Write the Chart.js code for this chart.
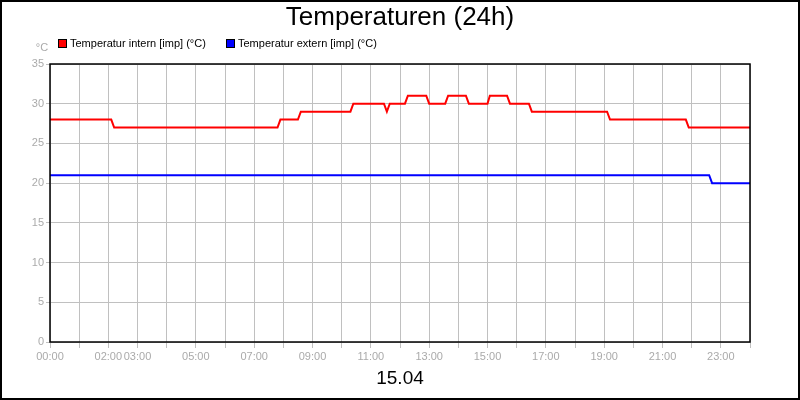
<!DOCTYPE html>
<html><head><meta charset="utf-8">
<script src="https://cdn.jsdelivr.net/npm/chart.js@4"></script>
<style>html,body{margin:0;padding:0;background:#fff}#w{width:800px;height:400px}</style>
</head><body><div id="w"><canvas id="c" width="800" height="400"></canvas></div>
<script>
const titleText = 'Temperaturen (24h)';
const dateText = '15.04';
const unitText = '°C';
const internLabel = 'Temperatur intern [imp] (°C)';
const externLabel = 'Temperatur extern [imp] (°C)';
const internHours = [0,2.1,2.2,7.8,7.9,8.5,8.6,10.3,10.4,11.45,11.55,11.65,12.17,12.27,12.9,13.0,13.55,13.65,14.26,14.36,15.0,15.08,15.67,15.77,16.42,16.52,19.1,19.2,21.8,21.9,24];
const internTemps = [28,28,27,27,28,28,29,29,30,30,29,30,30,31,31,30,30,31,31,30,30,31,31,30,30,29,29,28,28,27,27];
const externHours = [0,22.6,22.7,24];
const externTemps = [21,21,20,20];
const xTickLabels = {0:'00:00',2:'02:00',3:'03:00',5:'05:00',7:'07:00',9:'09:00',11:'11:00',13:'13:00',15:'15:00',17:'17:00',19:'19:00',21:'21:00',23:'23:00'};
const yTicks = [0,5,10,15,20,25,30,35];

const pts = (xs,ys)=>xs.map((x,i)=>({x, y:ys[i]}));
const tickFont = {family:"'Liberation Sans Narrow','Liberation Sans',Arial", size:11};

const deco = {
  id:'deco',
  afterDraw(chart){
    const ctx = chart.ctx, a = chart.chartArea;
    ctx.save();
    ctx.strokeStyle='#000'; ctx.lineWidth=1.5;
    ctx.strokeRect(a.left, a.top, a.right-a.left, a.bottom-a.top);
    ctx.lineWidth=2; ctx.strokeRect(1,1,798,398);
    ctx.fillStyle='#000'; ctx.textAlign='center'; ctx.textBaseline='middle';
    ctx.font="26px 'Liberation Sans',Arial"; ctx.fillText(titleText, 400, 18);
    ctx.font="19px 'Liberation Sans',Arial"; ctx.fillText(dateText, 400, 379);
    ctx.font="11px 'Liberation Sans',Arial"; ctx.fillStyle='#aaa'; ctx.fillText(unitText, 42, 48);
    ctx.textAlign='left'; ctx.fillStyle='#000';
    const items=[[internLabel,'#ff0000',59],[externLabel,'#0000ff',227]];
    items.forEach(([t,c,x])=>{
      ctx.fillStyle=c; ctx.fillRect(x,40,7,7);
      ctx.strokeStyle='#000'; ctx.lineWidth=1; ctx.strokeRect(x-0.5,39.5,8,8);
      ctx.fillStyle='#000'; ctx.fillText(t, x+11, 44);
    });
    ctx.restore();
  }
};

new Chart(document.getElementById('c'), {
  type:'line',
  data:{datasets:[
    {label:internLabel, data:pts(internHours,internTemps), borderColor:'#ff0000', borderWidth:2, pointRadius:0, tension:0},
    {label:externLabel, data:pts(externHours,externTemps), borderColor:'#0000ff', borderWidth:2, pointRadius:0, tension:0}
  ]},
  options:{
    responsive:false, animation:false, devicePixelRatio:1,
    layout:{padding:{left:0,right:50,top:64,bottom:0}},
    plugins:{legend:{display:false}, title:{display:false}, tooltip:{enabled:false}},
    scales:{
      x:{type:'linear', min:0, max:24,
        afterBuildTicks(s){ s.ticks = Array.from({length:25},(_,i)=>({value:i})); },
        afterFit(s){ s.height = 58; },
        grid:{color:'#c0c0c0', tickLength:6, drawTicks:true},
        border:{display:false},
        ticks:{color:'#aaa', font:tickFont, maxRotation:0, autoSkip:false, padding:2,
          callback:(v)=> xTickLabels[v] !== undefined ? xTickLabels[v] : ''}
      },
      y:{min:0, max:35,
        afterBuildTicks(s){ s.ticks = yTicks.map(v=>({value:v})); },
        afterFit(s){ s.width = 50; },
        grid:{color:'#c0c0c0', tickLength:4},
        border:{display:false},
        ticks:{color:'#aaa', font:tickFont, padding:2}
      }
    }
  },
  plugins:[deco]
});
</script></body></html>
